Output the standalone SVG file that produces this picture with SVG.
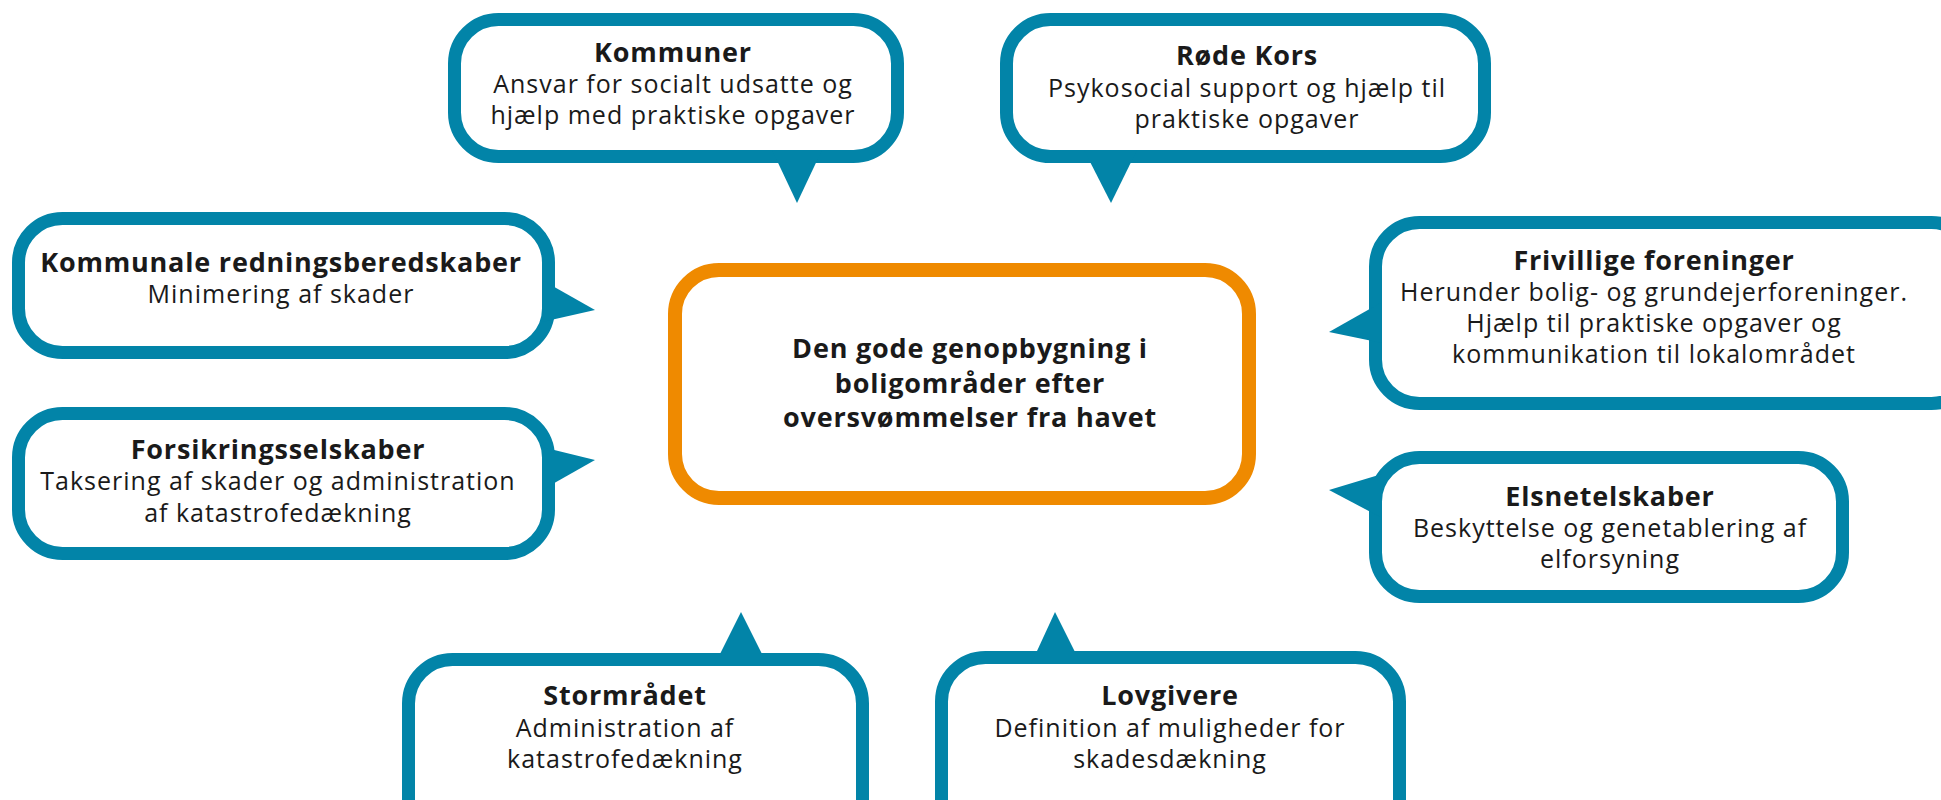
<svg xmlns="http://www.w3.org/2000/svg" width="1941" height="800" viewBox="0 0 1941 800">
<style>
.bx{fill:#fff;stroke:#0284A8;stroke-width:13}
.tl{fill:#0284A8}
.ctr{fill:#fff;stroke:#EF8A00;stroke-width:14}
text{font-family:"Open Sans","Noto Sans","Liberation Sans",sans-serif;fill:#1a1a1a;text-anchor:middle}
.t{font-weight:700;font-size:27px;letter-spacing:0.8px}
.d{font-size:25px;letter-spacing:1px}
.c{font-weight:700;font-size:27px;letter-spacing:0.8px}
</style>
<rect width="1941" height="800" fill="#fff"/>
<g id="center">
<rect class="ctr" x="675" y="270" width="574" height="228" rx="44"/>
<text class="c" x="970" y="358">Den gode genopbygning i</text>
<text class="c" x="970" y="393">boligområder efter</text>
<text class="c" x="970" y="427">oversvømmelser fra havet</text>
</g>
<g id="kommuner">
<rect class="bx" x="454.5" y="19.5" width="443" height="137" rx="44"/>
<polygon class="tl" points="772,150 822,150 797,203"/>
<text class="t" x="673" y="62">Kommuner</text>
<text class="d" x="673" y="93">Ansvar for socialt udsatte og</text>
<text class="d" x="673" y="124">hjælp med praktiske opgaver</text>
</g>
<g id="rodekors">
<rect class="bx" x="1006.5" y="19.5" width="478" height="137" rx="44"/>
<polygon class="tl" points="1084,150 1137,150 1111,203"/>
<text class="t" x="1247" y="65">Røde Kors</text>
<text class="d" x="1247" y="97">Psykosocial support og hjælp til</text>
<text class="d" x="1247" y="128">praktiske opgaver</text>
</g>
<g id="kommunale">
<rect class="bx" x="18.5" y="218.5" width="530" height="134" rx="44"/>
<polygon class="tl" points="542,280 542,322 595,310"/>
<text class="t" x="281" y="272">Kommunale redningsberedskaber</text>
<text class="d" x="281" y="303">Minimering af skader</text>
</g>
<g id="forsikring">
<rect class="bx" x="18.5" y="413.5" width="530" height="140" rx="44"/>
<polygon class="tl" points="542,447 542,490 595,460"/>
<text class="t" x="278" y="459">Forsikringsselskaber</text>
<text class="d" x="278" y="490">Taksering af skader og administration</text>
<text class="d" x="278" y="522">af katastrofedækning</text>
</g>
<g id="frivillige">
<rect class="bx" x="1375.5" y="222.5" width="600" height="181" rx="44"/>
<polygon class="tl" points="1382,302 1382,343 1329,332"/>
<text class="t" x="1654" y="270">Frivillige foreninger</text>
<text class="d" x="1654" y="301">Herunder bolig- og grundejerforeninger.</text>
<text class="d" x="1654" y="332">Hjælp til praktiske opgaver og</text>
<text class="d" x="1654" y="363">kommunikation til lokalområdet</text>
</g>
<g id="elsnet">
<rect class="bx" x="1375.5" y="457.5" width="467" height="139" rx="44"/>
<polygon class="tl" points="1382,474 1382,518 1329,490"/>
<text class="t" x="1610" y="506">Elsnetelskaber</text>
<text class="d" x="1610" y="537">Beskyttelse og genetablering af</text>
<text class="d" x="1610" y="568">elforsyning</text>
</g>
<g id="stormraadet">
<rect class="bx" x="408.5" y="659.5" width="454" height="200" rx="44"/>
<polygon class="tl" points="714,666 768,666 741,612"/>
<text class="t" x="625" y="705">Stormrådet</text>
<text class="d" x="625" y="737">Administration af</text>
<text class="d" x="625" y="768">katastrofedækning</text>
</g>
<g id="lovgivere">
<rect class="bx" x="941.5" y="657.5" width="458" height="200" rx="44"/>
<polygon class="tl" points="1031,664 1081,664 1055,612"/>
<text class="t" x="1170" y="705">Lovgivere</text>
<text class="d" x="1170" y="737">Definition af muligheder for</text>
<text class="d" x="1170" y="768">skadesdækning</text>
</g>
<g id="connectors"></g>
</svg>
